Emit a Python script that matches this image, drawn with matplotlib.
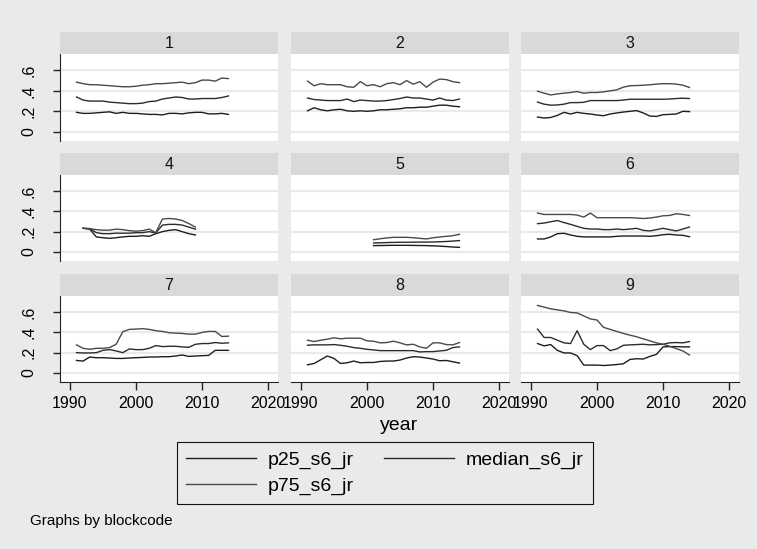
import matplotlib.pyplot as plt
from matplotlib.lines import Line2D

plt.rcParams['font.family'] = ['Liberation Sans', 'DejaVu Sans']

# years covered by each block
years_all = list(range(1991, 2015))
years_4 = list(range(1992, 2010))
years_5 = list(range(2001, 2015))

p25_1 = [.19, .18, .18, .185, .19, .195, .18, .19, .18, .18, .175, .17, .17, .165, .18, .18, .175, .185, .19, .19, .175, .175, .18, .17]
med_1 = [.34, .31, .30, .30, .30, .29, .285, .28, .275, .275, .28, .295, .30, .32, .33, .34, .335, .32, .32, .325, .325, .325, .335, .35]
p75_1 = [.485, .47, .46, .46, .455, .45, .445, .44, .44, .445, .455, .46, .47, .47, .475, .48, .485, .47, .48, .505, .505, .495, .525, .52]

p25_2 = [.205, .235, .215, .205, .215, .22, .205, .20, .205, .20, .205, .215, .215, .22, .225, .235, .235, .24, .24, .25, .26, .26, .25, .245]
med_2 = [.33, .315, .31, .305, .305, .305, .32, .295, .31, .305, .30, .30, .305, .315, .325, .34, .33, .33, .32, .31, .33, .31, .305, .32]
p75_2 = [.495, .45, .47, .46, .46, .46, .44, .435, .49, .45, .46, .44, .47, .48, .46, .50, .465, .49, .435, .485, .515, .51, .49, .48]

p25_3 = [.144, .134, .14, .16, .19, .174, .19, .18, .174, .164, .157, .174, .184, .193, .20, .207, .184, .154, .15, .167, .17, .174, .20, .197]
med_3 = [.29, .27, .26, .262, .27, .285, .285, .288, .305, .305, .305, .305, .305, .31, .318, .318, .318, .318, .318, .318, .32, .325, .328, .325]
p75_3 = [.397, .377, .36, .37, .377, .384, .393, .377, .384, .384, .39, .40, .41, .436, .45, .452, .455, .459, .466, .47, .47, .466, .455, .433]

p25_4 = [.233, .225, .148, .14, .134, .14, .148, .154, .154, .16, .154, .18, .20, .213, .22, .20, .18, .167]
med_4 = [.233, .23, .19, .18, .18, .185, .185, .185, .19, .19, .20, .187, .265, .272, .272, .265, .245, .225]
p75_4 = [.233, .23, .22, .215, .215, .225, .22, .21, .205, .21, .225, .19, .325, .33, .325, .31, .28, .245]

p25_5 = [.062, .063, .064, .065, .065, .065, .064, .063, .062, .060, .057, .053, .048, .045]
med_5 = [.088, .09, .092, .094, .095, .095, .096, .097, .097, .098, .10, .103, .107, .112]
p75_5 = [.12, .13, .138, .144, .144, .144, .14, .134, .128, .14, .147, .154, .16, .174]

p25_6 = [.128, .128, .148, .18, .184, .167, .154, .148, .148, .148, .148, .148, .154, .157, .157, .157, .157, .154, .16, .17, .174, .167, .164, .15]
med_6 = [.279, .285, .298, .31, .29, .272, .252, .233, .226, .226, .22, .22, .226, .22, .226, .233, .213, .207, .22, .233, .22, .207, .226, .246]
p75_6 = [.384, .37, .37, .37, .37, .37, .364, .344, .384, .338, .338, .338, .338, .338, .338, .335, .33, .335, .344, .357, .36, .377, .37, .36]

p25_7 = [.123, .117, .157, .15, .15, .147, .143, .143, .147, .15, .153, .157, .157, .16, .16, .167, .177, .163, .167, .17, .173, .223, .223, .223]
med_7 = [.20, .197, .197, .20, .223, .23, .217, .20, .237, .23, .23, .243, .27, .26, .263, .263, .257, .253, .283, .29, .29, .30, .293, .297]
p75_7 = [.277, .243, .233, .243, .243, .25, .283, .407, .43, .433, .437, .43, .417, .41, .397, .393, .39, .383, .383, .40, .41, .41, .36, .363]

p25_8 = [.08, .093, .13, .167, .143, .093, .10, .117, .10, .103, .103, .113, .117, .117, .127, .147, .16, .157, .147, .137, .12, .123, .11, .097]
med_8 = [.273, .277, .277, .277, .28, .273, .263, .25, .243, .233, .227, .22, .22, .22, .22, .22, .22, .207, .21, .21, .217, .223, .25, .257]
p75_8 = [.323, .31, .323, .333, .347, .337, .343, .343, .343, .317, .313, .297, .30, .313, .297, .277, .283, .257, .243, .297, .297, .28, .277, .30]

p25_9 = [.29, .267, .28, .223, .197, .197, .17, .077, .077, .077, .073, .077, .083, .09, .133, .14, .137, .163, .183, .257, .26, .26, .257, .257]
med_9 = [.433, .35, .35, .323, .297, .29, .417, .283, .23, .27, .27, .22, .237, .273, .277, .28, .283, .277, .28, .283, .297, .30, .297, .31]
p75_9 = [.667, .65, .633, .623, .613, .597, .593, .563, .533, .523, .45, .43, .41, .39, .373, .357, .337, .317, .297, .283, .263, .24, .217, .177]

blocks = [
    (1, years_all, p25_1, med_1, p75_1),
    (2, years_all, p25_2, med_2, p75_2),
    (3, years_all, p25_3, med_3, p75_3),
    (4, years_4, p25_4, med_4, p75_4),
    (5, years_5, p25_5, med_5, p75_5),
    (6, years_all, p25_6, med_6, p75_6),
    (7, years_all, p25_7, med_7, p75_7),
    (8, years_all, p25_8, med_8, p75_8),
    (9, years_all, p25_9, med_9, p75_9),
]

series_names = ['p25_s6_jr', 'median_s6_jr', 'p75_s6_jr']
series_colors = ['#1e1e1e', '#2c2c2c', '#4a4a4a']

W, H = 757, 549
bg = '#EAEAEA'
fig = plt.figure(figsize=(W / 100, H / 100), dpi=100, facecolor=bg)

col_left = [60, 291, 521]
col_w = 218
strip_top = [32, 153, 274]
strip_h = 22
plot_bottom = [141, 261, 382]

for i, (code, yrs, p25, med, p75) in enumerate(blocks):
    r, c = divmod(i, 3)
    x0 = col_left[c]
    top = strip_top[r] + strip_h
    ax = fig.add_axes([x0 / W, 1 - plot_bottom[r] / H, col_w / W, (plot_bottom[r] - top) / H])
    st = fig.add_axes([x0 / W, 1 - top / H, col_w / W, strip_h / H])
    st.set_facecolor('#D9D9D9')
    st.set_xticks([])
    st.set_yticks([])
    for s in st.spines.values():
        s.set_visible(False)
    st.text(0.5, 0.5, str(code), ha='center', va='center', fontsize=11.5, color='#111111',
            transform=st.transAxes)

    for vals, col in zip([p25, med, p75], series_colors):
        ax.plot(yrs, vals, color=col, lw=1.0)

    ax.set_xlim(1988.5, 2021.5)
    ax.set_ylim(-0.09, 0.76)
    ax.set_yticks([0, .2, .4, .6])
    ax.set_yticklabels(['0', '.2', '.4', '.6'])
    ax.set_xticks([1990, 2000, 2010, 2020])
    ax.yaxis.grid(True, color=bg, lw=1.6)
    ax.set_axisbelow(True)
    ax.set_facecolor('white')
    for s in ax.spines.values():
        s.set_visible(False)
    if c == 0:
        ax.spines['left'].set_visible(True)
        ax.spines['left'].set_color('#222222')
        ax.tick_params(axis='y', length=5, width=1, color='#222222', pad=12, labelsize=11.5,
                       labelrotation=90)
        for lab in ax.get_yticklabels():
            lab.set_va('center')
    else:
        ax.tick_params(axis='y', left=False, labelleft=False)
    if r == 2:
        ax.spines['bottom'].set_visible(True)
        ax.spines['bottom'].set_color('#222222')
        ax.tick_params(axis='x', length=6, width=1, color='#222222', pad=4, labelsize=11.5)
    else:
        ax.tick_params(axis='x', bottom=False, labelbottom=False)

fig.text(399 / W, 1 - 425 / H, 'year', ha='center', va='center', fontsize=14)
fig.text(30 / W, 1 - 521 / H, 'Graphs by blockcode', ha='left', va='center', fontsize=11)

handles = [Line2D([], [], color=col, lw=1.0) for col in series_colors]
# reorder so the legend fills row by row
order = [0, 2, 1]
leg = fig.legend([handles[k] for k in order], [series_names[k] for k in order],
                 ncol=2, loc='upper left', bbox_to_anchor=(177 / W, 1 - 442 / H),
                 fontsize=14, frameon=True, fancybox=False, edgecolor='#111111',
                 facecolor=bg, framealpha=1, handlelength=3.6, handletextpad=0.6,
                 columnspacing=1.55, labelspacing=0.42, borderpad=0.48, borderaxespad=0)
leg.get_frame().set_linewidth(0.8)

fig.savefig('out.png', dpi=100, facecolor=fig.get_facecolor())
